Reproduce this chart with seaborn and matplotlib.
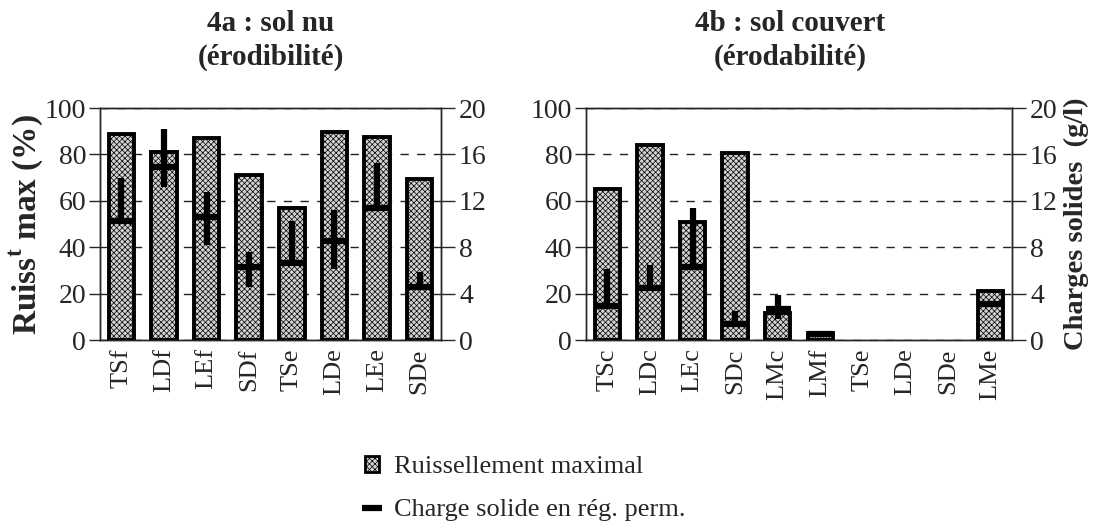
import numpy as np
import pandas as pd
import matplotlib
matplotlib.use("Agg")
import matplotlib.pyplot as plt
import seaborn as sns
from matplotlib.patches import Patch
from matplotlib.lines import Line2D

# ---- data ----
cats_a = ["TSf", "LDf", "LEf", "SDf", "TSe", "LDe", "LEe", "SDe"]
ruiss_a = [89, 81, 87, 71, 57, 89.5, 87.5, 69.5]
charge_a = [10.3, 14.9, 10.6, 6.3, 6.6, 8.5, 11.4, 4.6]
charge_a_low = [10.3, 13.2, 8.2, 4.6, 6.6, 6.1, 11.4, 4.6]
charge_a_high = [14.0, 18.2, 12.8, 7.6, 10.3, 11.2, 15.3, 5.9]

cats_b = ["TSc", "LDc", "LEc", "SDc", "LMc", "LMf", "TSe", "LDe", "SDe", "LMe"]
ruiss_b = [65, 84, 51, 80.5, 11.5, 3, 0, 0, 0, 21]
charge_b = [2.9, 4.5, 6.3, 1.4, 2.7, 0.5, np.nan, np.nan, np.nan, 3.1]
charge_b_low = [2.9, 4.5, 6.3, 1.4, 1.8, 0.5, np.nan, np.nan, np.nan, 3.1]
charge_b_high = [6.1, 6.5, 11.4, 2.5, 3.9, 0.5, np.nan, np.nan, np.nan, 3.1]

titles = ["4a : sol nu\n(érodibilité)", "4b : sol couvert\n(érodabilité)"]

sns.set_style("white")
plt.rcParams["font.family"] = ["Liberation Serif", "DejaVu Serif"]
plt.rcParams["mathtext.fontset"] = "custom"
plt.rcParams["mathtext.rm"] = "Liberation Serif"
plt.rcParams["mathtext.bf"] = "Liberation Serif:bold"
plt.rcParams["hatch.linewidth"] = 0.5

fig = plt.figure(figsize=(11.01, 5.29), dpi=100)
W, H = 1101, 529
ax_a = fig.add_axes([100 / W, (H - 340) / H, 341 / W, 232 / H])
ax_b = fig.add_axes([586 / W, (H - 340) / H, 426 / W, 232 / H])

FACE = "#d2d2d2"


def draw(ax, cats, ruiss, ch, lo, hi, title, title_x, left_label, right_label):
    df = pd.DataFrame({"cat": cats, "v": ruiss})
    sns.barplot(data=df, x="cat", y="v", order=cats, ax=ax, width=0.6,
                color=FACE, edgecolor="black", linewidth=2.8,
                saturation=1)
    for p in ax.patches:
        p.set_hatch("xxxxxx")
        if p.get_height() == 0:
            p.set_linewidth(0)
    ax.set_ylim(0, 100)
    ax.set_xlim(-0.5, len(cats) - 0.5)
    ax.set_yticks([0, 20, 40, 60, 80, 100])
    ax.set_axisbelow(True)
    ax.yaxis.grid(True, color="#222222", linestyle=(0, (6, 6)), linewidth=1)
    ax.set_xlabel("")
    ax.set_ylabel(left_label, fontsize=24, fontweight="bold", labelpad=0)
    ax.tick_params(axis="y", direction="out", length=8, width=1, labelsize=20, pad=2, left=True)
    ax.tick_params(axis="x", length=0, labelsize=19, pad=6, rotation=90)
    for s in ax.spines.values():
        s.set_color("black")
        s.set_linewidth(1)
    ax.set_title(title, fontsize=21, fontweight="bold", pad=31, linespacing=1.35, x=title_x)

    ax2 = ax.twinx()
    ax2.set_ylim(0, 20)
    ax2.set_yticks([0, 4, 8, 12, 16, 20])
    ax2.tick_params(axis="y", direction="out", length=10, width=1, labelsize=20, pad=3, right=True)
    ch = np.array(ch, dtype=float)
    lo = np.array(lo, dtype=float)
    hi = np.array(hi, dtype=float)
    x = np.arange(len(cats))
    ax2.errorbar(x, ch, yerr=[ch - lo, hi - ch], fmt="_", color="black",
                 markersize=18, markeredgewidth=4.5, elinewidth=4.5, capsize=0)
    if right_label:
        ax2.set_ylabel(right_label, fontsize=20.5, fontweight="bold", labelpad=4)
    for s in ax2.spines.values():
        s.set_linewidth(1)
    return ax2


draw(ax_a, cats_a, ruiss_a, charge_a, charge_a_low, charge_a_high,
     titles[0], 0.5, r"Ruiss$^{\mathbf{t}}$ max (%)", None)
draw(ax_b, cats_b, ruiss_b, charge_b, charge_b_low, charge_b_high,
     titles[1], 0.48, "", "Charges solides  (g/l)")

handles = [
    Patch(facecolor=FACE, edgecolor="black", hatch="xxxxxx", linewidth=2),
    Line2D([], [], color="black", marker="_", linestyle="none", markersize=14, markeredgewidth=4.5),
]
labels = ["Ruissellement maximal", "Charge solide en rég. perm."]
fig.legend(handles, labels, loc="center left", bbox_to_anchor=(0.3315, 0.0766),
           frameon=False, fontsize=19, handlelength=0.55, handleheight=0.55,
           handletextpad=0.55, labelspacing=0.8, borderpad=0, borderaxespad=0)

fig.savefig("out.png", dpi=100)
